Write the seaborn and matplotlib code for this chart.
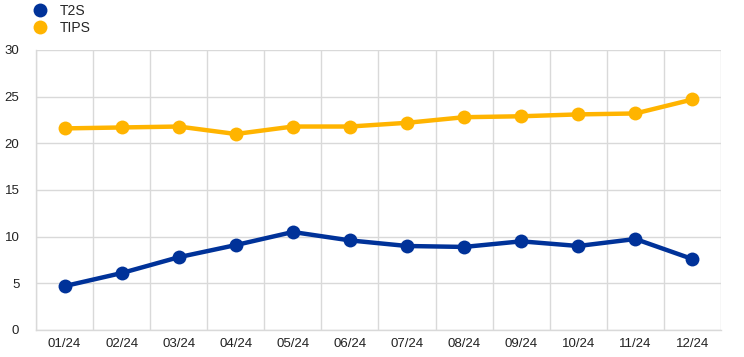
import matplotlib
matplotlib.use("Agg")
import matplotlib.pyplot as plt
import seaborn as sns
import pandas as pd
import numpy as np
from matplotlib.lines import Line2D

months = ["01/24", "02/24", "03/24", "04/24", "05/24", "06/24",
          "07/24", "08/24", "09/24", "10/24", "11/24", "12/24"]
t2s = [4.7, 6.1, 7.8, 9.1, 10.5, 9.6, 9.0, 8.9, 9.5, 9.0, 9.75, 7.6]
tips = [21.6, 21.7, 21.8, 21.0, 21.8, 21.8, 22.2, 22.8, 22.9, 23.1, 23.2, 24.7]
series_names = ["T2S", "TIPS"]
colors = ["#003299", "#FFB400"]

sns.set_style("white")
plt.rcParams['font.family'] = ['Liberation Sans', 'DejaVu Sans']

df = pd.DataFrame({"month": months * 2,
                   "value": t2s + tips,
                   "series": [series_names[0]] * 12 + [series_names[1]] * 12})
df["x"] = list(range(12)) * 2

fig = plt.figure(figsize=(7.44, 3.57), dpi=100)
ax = fig.add_axes([36/744, 27/357, 685/744, 280/357])

sns.lineplot(data=df, x="x", y="value", hue="series", palette=colors,
             marker="o", markersize=10, markeredgewidth=0, linewidth=3.2,
             ax=ax, legend=False, zorder=3)

ax.set_xlim(-0.5, 11.5)
ax.set_ylim(0, 30)
ax.set_yticks(range(0, 31, 5))
ax.set_xticks(range(12))
ax.set_xticklabels(months)
ax.set_xticks(np.arange(-0.5, 12, 1), minor=True)
ax.grid(False)
ax.grid(which="minor", axis="x", color="#d9d9d9", linewidth=1)
ax.grid(which="major", axis="y", color="#d9d9d9", linewidth=1)
ax.tick_params(which="both", length=0, labelsize=9.5, colors="#222222")
ax.tick_params(axis="y", pad=12)
ax.tick_params(axis="x", pad=6)
ax.set_xlabel("")
ax.set_ylabel("")
for s in ["top", "right"]:
    ax.spines[s].set_visible(False)
for s in ["left", "bottom"]:
    ax.spines[s].set_color("#d9d9d9")
    ax.spines[s].set_linewidth(1)

handles = [Line2D([], [], marker="o", linestyle="", markersize=10, color=c, markeredgewidth=0)
           for c in colors]
fig.legend(handles, series_names, loc="upper left", bbox_to_anchor=(0.045, 0.988),
           frameon=False, fontsize=10, handletextpad=0.9, labelspacing=0.2,
           handlelength=1.0, borderaxespad=0, borderpad=0)

fig.savefig("out.png", dpi=100)
